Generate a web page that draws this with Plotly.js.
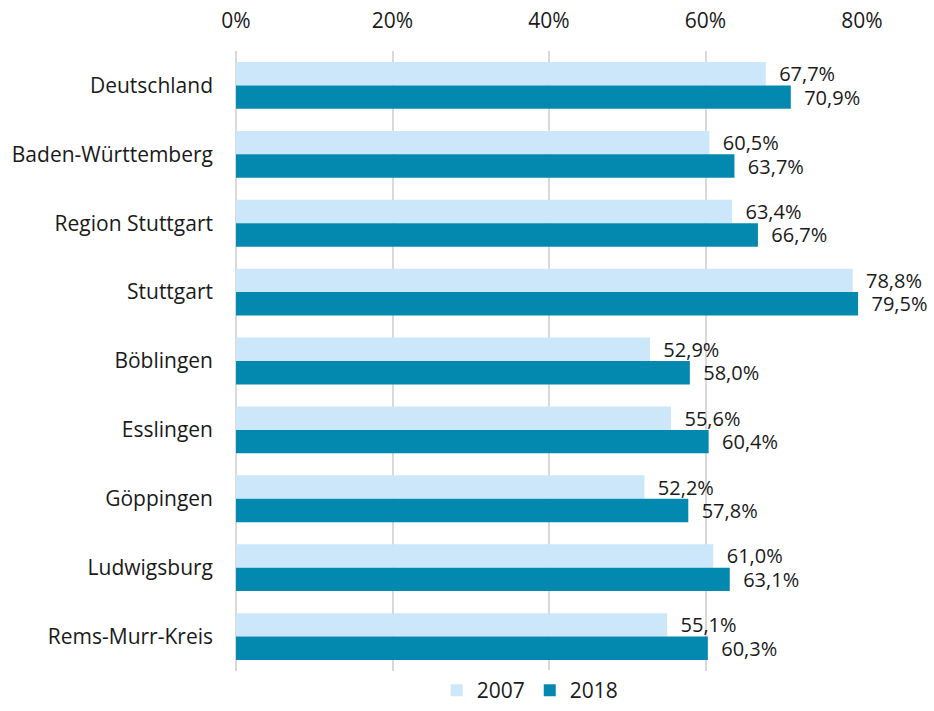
<!DOCTYPE html>
<html>
<head>
<meta charset="utf-8">
<script src="https://cdn.plot.ly/plotly-3.0.1.min.js"></script>
<style>html,body{margin:0;padding:0;background:#fff}#chart{width:934px;height:711px}</style>
</head>
<body>
<div id="chart"></div>
<script>
const categories = ["Deutschland", "Baden-Württemberg", "Region Stuttgart", "Stuttgart", "Böblingen", "Esslingen", "Göppingen", "Ludwigsburg", "Rems-Murr-Kreis"];
const values2007 = [67.7, 60.5, 63.4, 78.8, 52.9, 55.6, 52.2, 61.0, 55.1];
const values2018 = [70.9, 63.7, 66.7, 79.5, 58.0, 60.4, 57.8, 63.1, 60.3];
const seriesNames = ["2007", "2018"];
const tickValues = [0, 20, 40, 60, 80];
const tickLabels = ["0%", "20%", "40%", "60%", "80%"];

const FONT = "Open Sans, Noto Sans, sans-serif";
const FS = 21;
const common = {
  type: "bar",
  orientation: "h",
  y: categories,
  textposition: "outside",
  constraintext: "none",
  cliponaxis: false,
  texttemplate: "  %{x:.1f}%",
  textfont: {family: FONT, size: 20, color: "#1a1a1a"},
  hoverinfo: "skip"
};
const data = [
  Object.assign({}, common, {name: seriesNames[0], x: values2007, marker: {color: "#cbe7f9"}}),
  Object.assign({}, common, {name: seriesNames[1], x: values2018, marker: {color: "#0389b0"}})
];
const layout = {
  width: 934, height: 711,
  margin: {l: 236, r: 72, t: 51, b: 40, autoexpand: false},
  separators: ",.",
  barmode: "group",
  bargap: 0.32,
  bargroupgap: 0,
  paper_bgcolor: "#fff",
  plot_bgcolor: "#fff",
  font: {family: FONT, size: FS, color: "#1a1a1a"},
  xaxis: {
    side: "top",
    range: [0, 80],
    tickmode: "array",
    tickvals: tickValues,
    ticktext: tickLabels,
    showgrid: true,
    gridcolor: "#d9d9d9",
    gridwidth: 2,
    zeroline: true,
    zerolinecolor: "#d9d9d9",
    zerolinewidth: 2,
    showline: false,
    ticks: "",
    ticklabelstandoff: 18,
    tickfont: {family: FONT, size: FS, color: "#1a1a1a"},
    fixedrange: true
  },
  yaxis: {
    autorange: "reversed",
    showgrid: false,
    zeroline: false,
    showline: false,
    ticks: "",
    ticklabelstandoff: 22,
    tickfont: {family: FONT, size: FS, color: "#1a1a1a"},
    fixedrange: true
  },
  showlegend: true,
  legend: {
    orientation: "h",
    x: 0.47, xanchor: "center",
    yref: "container",
    y: -0.012, yanchor: "bottom",
    font: {family: FONT, size: FS, color: "#1a1a1a"},
    traceorder: "normal"
  }
};
Plotly.newPlot("chart", data, layout, {displayModeBar: false, staticPlot: true});
</script>
</body>
</html>
